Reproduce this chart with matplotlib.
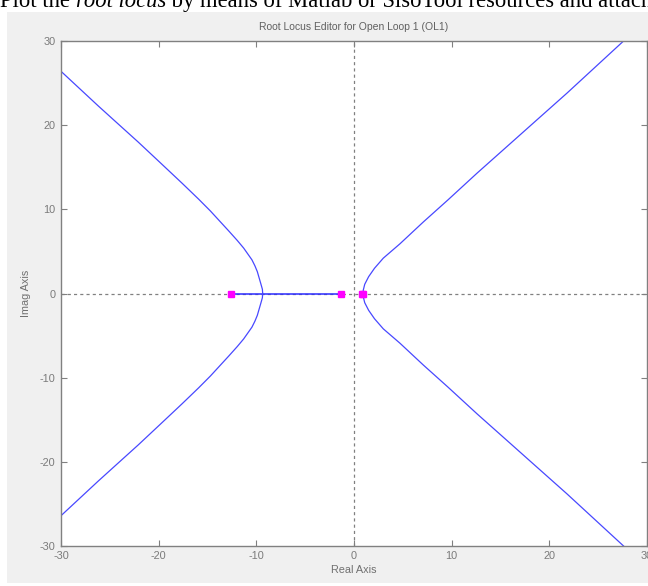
import matplotlib.pyplot as plt
from matplotlib.patches import Rectangle
import numpy as np

# open-loop poles (magenta squares)
pole_re = [-12.6, -1.33, 0.86, 0.96]
pole_im = [0, 0, 0, 0]

# real-axis part of the locus
seg_re = [-12.6, -1.33]
seg_im = [0, 0]

# upper half of the left branch (lower half is its mirror)
left_re = [-9.35, -9.38, -9.55, -9.9, -10.15, -10.45, -11.3, -11.95, -12.8, -14.7, -15.9, -17.6,
           -19.8, -22.1, -24.2, -26.2, -30.0]
left_im = [0, 0.5, 1.2, 2.6, 3.3, 4.0, 5.4, 6.3, 7.4, 9.8, 11.2, 13.1,
           15.5, 18.0, 20.2, 22.3, 26.4]

# upper half of the right branch
right_re = [0.92, 0.95, 1.1, 1.5, 2.1, 3.0, 4.7, 7.1, 9.6, 12.6, 15.7, 18.7, 21.8, 24.7, 27.6]
right_im = [0, 0.4, 1.1, 2.0, 3.0, 4.2, 5.9, 8.5, 11.1, 14.3, 17.5, 20.6, 23.8, 26.9, 30.0]

ticks = [-30, -20, -10, 0, 10, 20, 30]

grey = '#808080'
blue = '#4848ff'

plt.rcParams['font.family'] = ['Liberation Sans', 'DejaVu Sans']
plt.rcParams['axes.unicode_minus'] = False

fig = plt.figure(figsize=(6.48, 5.86), dpi=100)
fig.patch.set_facecolor('white')

# grey figure panel behind the axes
fig.patches.append(Rectangle((7 / 648, 3 / 586), 1, 1 - 15 / 586, transform=fig.transFigure,
                             facecolor='#f0f0f0', edgecolor='none', zorder=-10))

# cut-off line of document text above the screenshot
t1 = fig.text(0.0, 1 - 12 / 586, 'Plot the ', family='Liberation Serif', fontsize=16.25, va='bottom')
t2 = fig.text(0, 0, 'root locus', family='Liberation Serif', fontsize=16.25, style='italic', va='bottom')
t3 = fig.text(0, 0, ' by means of Matlab or SisoTool resources and attach', family='Liberation Serif',
              fontsize=16.25, va='bottom')
fig.canvas.draw()
r = fig.canvas.get_renderer()
bb1 = t1.get_window_extent(r)
t2.set_position(fig.transFigure.inverted().transform((bb1.x1, bb1.y0)))
bb2 = t2.get_window_extent(r)
t3.set_position(fig.transFigure.inverted().transform((bb2.x1, bb2.y0)))

ax = fig.add_axes([61 / 648, 1 - 546 / 586, 586 / 648, 505 / 586])
ax.set_facecolor('white')

ax.axhline(0, color=grey, lw=0.9, ls=(0, (2.5, 2.5)), zorder=1)
ax.axvline(0, color=grey, lw=0.9, ls=(0, (2.5, 2.5)), zorder=1)

ax.plot(seg_re, seg_im, color='#2b2bff', lw=1.1, zorder=2)
for s in [1, -1]:
    ax.plot(left_re, s * np.array(left_im), color=blue, lw=0.9, zorder=2)
    ax.plot(right_re, s * np.array(right_im), color=blue, lw=0.9, zorder=2)

ax.plot(pole_re, pole_im, 's', color='#ff00ff', ms=5, mec='#ff00ff', zorder=3, clip_on=False)

ax.set_xlim(-30, 30)
ax.set_ylim(-30, 30)
ax.set_xticks(ticks)
ax.set_yticks(ticks)
ax.tick_params(direction='in', length=4.5, width=0.8, color=grey, labelcolor='#7a7a7a',
               labelsize=7.8, top=True, right=True, pad=3.5)
ax.tick_params(axis='y', pad=4)
for sp in ax.spines.values():
    sp.set_color(grey)
    sp.set_linewidth(1.0)

ax.set_title('Root Locus Editor for Open Loop 1 (OL1)', fontsize=7.5, color='#606060', pad=8)
ax.set_xlabel('Real Axis', fontsize=7.8, color='#707070', labelpad=3)
ax.set_ylabel('Imag Axis', fontsize=7.8, color='#707070', labelpad=6)

fig.savefig('out.png', dpi=100)
